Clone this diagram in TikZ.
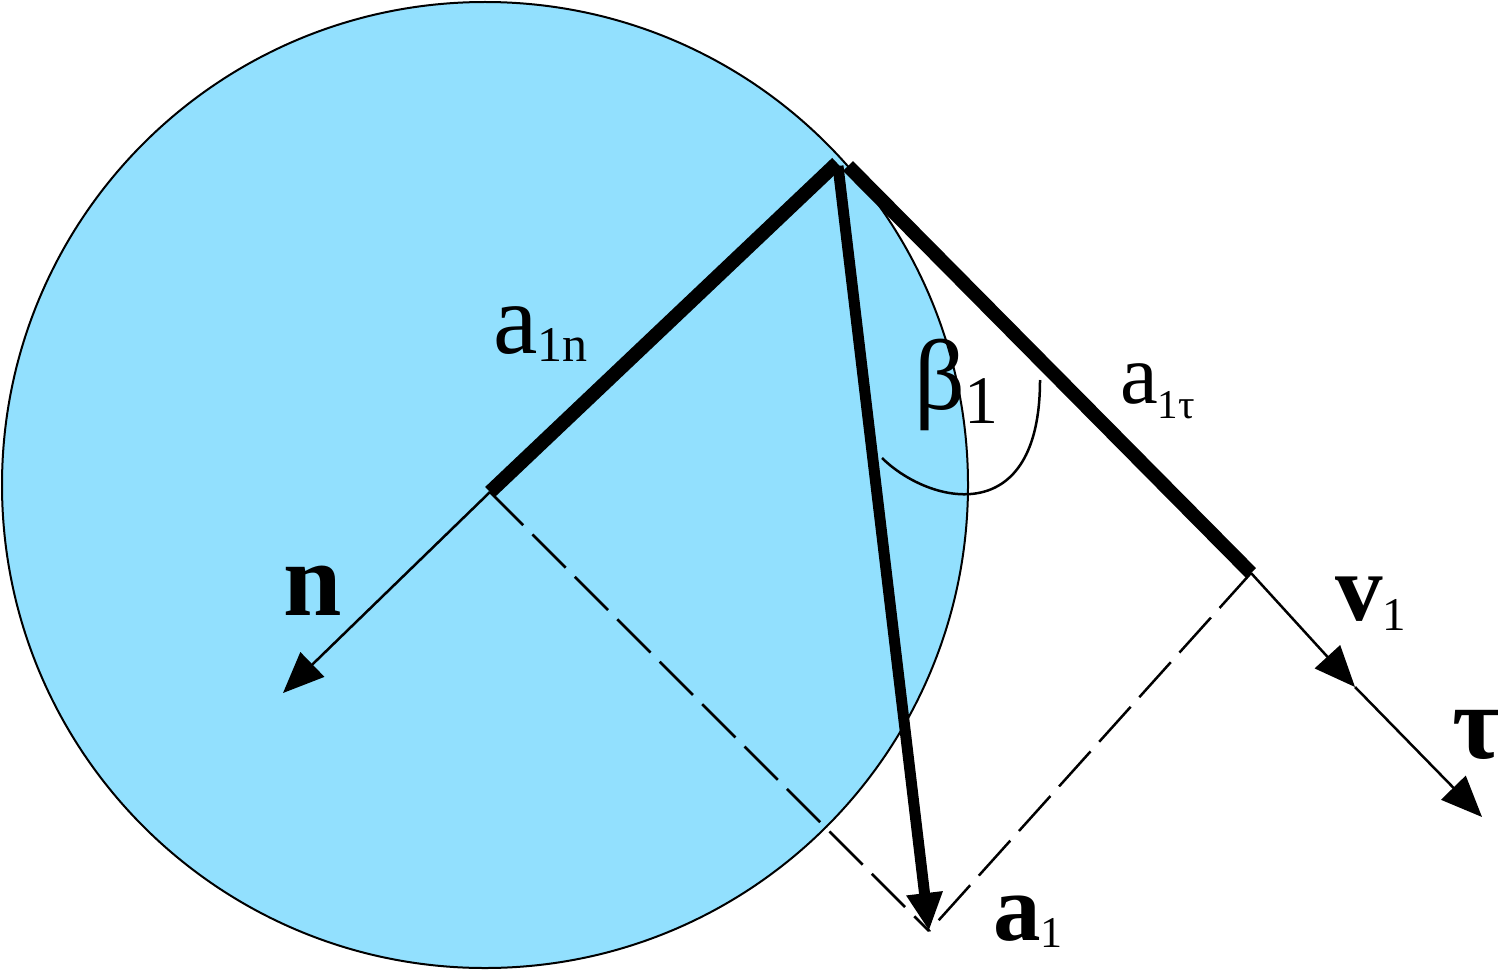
\documentclass[tikz,border=0pt]{standalone}
\usepackage{fontspec}
\setmainfont{Liberation Serif}
\usetikzlibrary{arrows.meta}
\definecolor{disc}{RGB}{146,224,254}
\tikzset{
  thickseg/.style={line width=14pt},
  vecline/.style={line width=11pt,-{Triangle[length=38pt,width=34pt]}},
  thinvec/.style={line width=2.5pt,-{Triangle[length=41pt,width=34pt]}},
  dashline/.style={line width=2.5pt,dash pattern=on 47pt off 13pt},
  lab/.style={anchor=base west,inner sep=0pt,outer sep=0pt},
}
\newcommand{\fs}[1]{\fontsize{#1}{#1}\selectfont}
\begin{document}
\begin{tikzpicture}[x=1pt,y=-1pt]
\useasboundingbox (0,0) rectangle (1498,971);
% disc
\node[circle,draw,line width=2pt,fill=disc,minimum size=966pt,inner sep=0pt] (disc) at (485,485) {};
% key points
\coordinate (N) at (490,492);
\coordinate (P1) at (837,163);
\coordinate (P) at (838,166);
\coordinate (P2) at (848,166);
\coordinate (T) at (1251,573);
\coordinate (A) at (929,931);
\coordinate (Ntip) at (283,693);
\coordinate (V) at (1355,687);
\coordinate (Tau) at (1482,817);
\coordinate (B0) at (882,458);
\coordinate (B1) at (1040,380);
% dashed projections
\draw[dashline] (N) -- (A);
\draw[dashline] (T) -- (A);
% angle arc
\draw[line width=2.5pt] (B0) .. controls (930,505) and (1040,530) .. (B1);
% thin vectors
\draw[thinvec] (N) -- (Ntip);
\draw[thinvec] (T) -- (V);
\draw[thinvec] (V) -- (Tau);
% components
\draw[thickseg] (N) -- (P1);
\draw[thickseg] (P2) -- (T);
% acceleration vector
\draw[vecline] (P) -- (A);
% labels
\node[lab] (lan) at (493,353) {\fs{100}a\raisebox{-8pt}{\fs{50}1n}};
\node[lab] (lbeta) at (914,409) {\fs{100}β\raisebox{-14pt}{\fs{68}1}};
\node[lab] (lat) at (1120,403) {\fs{85}a\raisebox{-15pt}{\fs{41}1τ}};
\node[lab] (ln) at (283,615) {\fs{105}\bfseries n};
\node[lab] (la) at (993,940) {\fs{95}\bfseries a\raisebox{-7pt}{\fs{44}\mdseries 1}};
\node[lab] (lv) at (1335,620) {\fs{95}\bfseries v\raisebox{-10pt}{\fs{47}\mdseries 1}};
\node[lab] (ltau) at (1452,758) {\fs{105}\bfseries τ};
\end{tikzpicture}
\end{document}
